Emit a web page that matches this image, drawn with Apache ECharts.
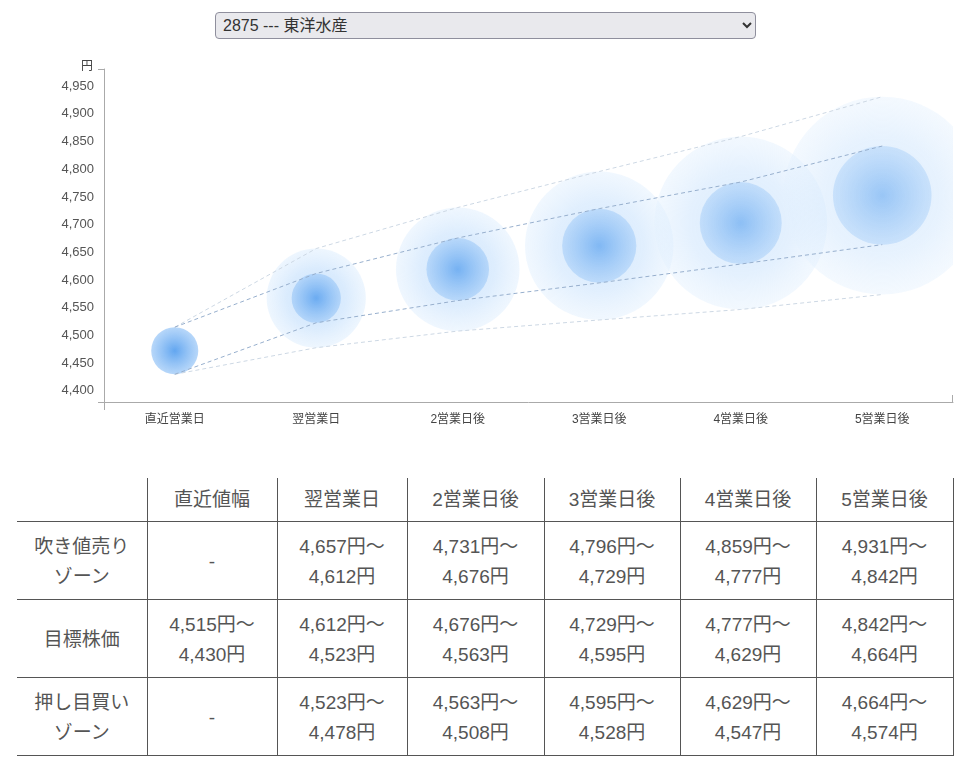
<!DOCTYPE html>
<html>
<head>
<meta charset="utf-8">
<script src="https://cdn.jsdelivr.net/npm/echarts@6/dist/echarts.min.js"></script>
<style>
  body { margin: 0; background: #fff; font-family: "Liberation Sans", "Noto Sans CJK JP", sans-serif; }
  #wrap { position: relative; width: 975px; height: 784px; }
  #stock {
    position: absolute; left: 215px; top: 12px; width: 541px; height: 27px;
    font-size: 16px; color: #333; background: #e9e9ed; border: 1px solid #8f8f9d;
    border-radius: 4px; padding: 0 3px; font-family: "Liberation Sans", "Noto Sans CJK JP", sans-serif;
  }
  #chart { position: absolute; left: 0; top: 50px; width: 975px; height: 390px; }
  #zone {
    position: absolute; left: 17px; top: 478px; width: 936px;
    border-collapse: collapse; table-layout: fixed; color: #555; font-size: 19px;
  }
  #zone td, #zone th {
    border: 1px solid #555; text-align: center; font-weight: normal;
    line-height: 30px; padding: 10px 0 7px 0;
  }
  #zone th { border-top: none; padding: 7px 0 6px 0; }
  #zone tr > :first-child { border-left: none; }
</style>
</head>
<body>
<div id="wrap">
  <select id="stock"><option>2875 --- 東洋水産</option></select>
  <div id="chart"></div>
  <table id="zone">
    <colgroup>
      <col style="width:130px"><col style="width:130px"><col style="width:130px">
      <col style="width:137px"><col style="width:136px"><col style="width:136px"><col style="width:137px">
    </colgroup>
    <tbody id="zoneBody"></tbody>
  </table>
</div>
<script>
// 予測レンジ（円）
const categories = ["直近営業日", "翌営業日", "2営業日後", "3営業日後", "4営業日後", "5営業日後"];
const sellHigh = [null, 4657, 4731, 4796, 4859, 4931];
const sellLow = [null, 4612, 4676, 4729, 4777, 4842];
const targetHigh = [4515, 4612, 4676, 4729, 4777, 4842];
const targetLow = [4430, 4523, 4563, 4595, 4629, 4664];
const buyHigh = [null, 4523, 4563, 4595, 4629, 4664];
const buyLow = [null, 4478, 4508, 4528, 4547, 4574];

const fmt = v => v.toLocaleString("en-US");

// 外側ライン（直近は目標株価から開始）
const outerTop = sellHigh.map((v, i) => (v == null ? targetHigh[i] : v));
const outerBottom = buyLow.map((v, i) => (v == null ? targetLow[i] : v));

const innerData = targetHigh.map((v, i) => [i, v, targetLow[i]]);
const outerData = [];
sellHigh.forEach((v, i) => {
  if (v != null) outerData.push([i, v, buyLow[i]]);
});

const yMin = Math.min(...outerBottom) - 50;
const yMax = Math.max(...outerTop) + 50;

function bubble(fillStops, fade) {
  return function (params, api) {
    const idx = api.value(0);
    const p1 = api.coord([idx, api.value(1)]);
    const p2 = api.coord([idx, api.value(2)]);
    const r = Math.abs(p2[1] - p1[1]) / 2;
    return {
      type: "circle",
      shape: { cx: p1[0], cy: (p1[1] + p2[1]) / 2, r: r },
      style: {
        fill: { type: "radial", x: 0.5, y: 0.5, r: 0.5, colorStops: fillStops },
        opacity: 1 - idx * fade
      }
    };
  };
}

function dashed(data, color, z) {
  return {
    type: "line",
    data: data,
    symbol: "none",
    silent: true,
    z: z,
    lineStyle: { color: color, width: 1, type: [4, 3] }
  };
}

const chart = echarts.init(document.getElementById("chart"));
const font = "Liberation Sans, Noto Sans CJK JP, sans-serif";
chart.setOption({
  animation: false,
  textStyle: { fontFamily: font },
  grid: { left: 104, right: 22, top: 19, bottom: 38 },
  xAxis: {
    type: "category",
    data: categories,
    axisLine: { lineStyle: { color: "#aaa" } },
    axisTick: { show: false },
    axisLabel: { color: "#444", fontSize: 12, margin: 12 }
  },
  yAxis: {
    type: "value",
    name: "円",
    nameLocation: "end",
    nameGap: 2,
    nameTextStyle: { color: "#444", fontSize: 12, align: "right", verticalAlign: "middle", padding: [0, 11, -2, 0] },
    min: yMin,
    max: yMax,
    minInterval: 50,
    maxInterval: 50,
    axisLine: { show: true, lineStyle: { color: "#aaa" } },
    axisTick: { show: false },
    splitLine: { show: false },
    axisLabel: {
      color: "#555",
      fontSize: 13,
      margin: 10,
      showMinLabel: false,
      showMaxLabel: false,
      formatter: v => (v % 50 === 0 ? fmt(v) : "")
    }
  },
  series: [
    {
      type: "custom",
      clip: true,
      z: 1,
      data: outerData,
      encode: { x: 0, y: [1, 2] },
      renderItem: bubble([
        { offset: 0, color: "rgba(198,225,252,1)" },
        { offset: 0.6, color: "rgba(212,232,253,0.92)" },
        { offset: 1, color: "rgba(228,241,254,0.7)" }
      ], 0.08)
    },
    {
      type: "custom",
      clip: true,
      z: 2,
      data: innerData,
      encode: { x: 0, y: [1, 2] },
      renderItem: bubble([
        { offset: 0, color: "rgba(98,166,240,1)" },
        { offset: 1, color: "rgba(165,205,248,0.8)" }
      ], 0.09)
    },
    dashed(outerTop, "#cdd8e4", 5),
    dashed(targetHigh, "#97afcd", 6),
    dashed(targetLow, "#97afcd", 6),
    dashed(outerBottom, "#cdd8e4", 5)
  ],
  graphic: [
    { type: "line", shape: { x1: 98, y1: 19.5, x2: 104, y2: 19.5 }, style: { stroke: "#aaa", lineWidth: 1 } },
    { type: "line", shape: { x1: 98, y1: 352.5, x2: 104, y2: 352.5 }, style: { stroke: "#aaa", lineWidth: 1 } },
    { type: "line", shape: { x1: 104.5, y1: 352, x2: 104.5, y2: 360 }, style: { stroke: "#aaa", lineWidth: 1 } },
    { type: "line", shape: { x1: 952.5, y1: 345, x2: 952.5, y2: 352 }, style: { stroke: "#aaa", lineWidth: 1 } }
  ]
});

// 表
const rows = [];
rows.push("<tr><th></th><th>直近値幅</th>" +
  categories.slice(1).map(c => "<th>" + c + "</th>").join("") + "</tr>");
function rangeCell(hi, lo) {
  return hi == null ? "<td>-</td>" : "<td>" + fmt(hi) + "円～<br>" + fmt(lo) + "円</td>";
}
function bodyRow(label, hiArr, loArr) {
  return "<tr><td>" + label + "</td>" +
    hiArr.map((v, i) => rangeCell(v, loArr[i])).join("") + "</tr>";
}
rows.push(bodyRow("吹き値売り<br>ゾーン", sellHigh, sellLow));
rows.push(bodyRow("目標株価", targetHigh, targetLow));
rows.push(bodyRow("押し目買い<br>ゾーン", buyHigh, buyLow));
document.getElementById("zoneBody").innerHTML = rows.join("");
</script>
</body>
</html>
